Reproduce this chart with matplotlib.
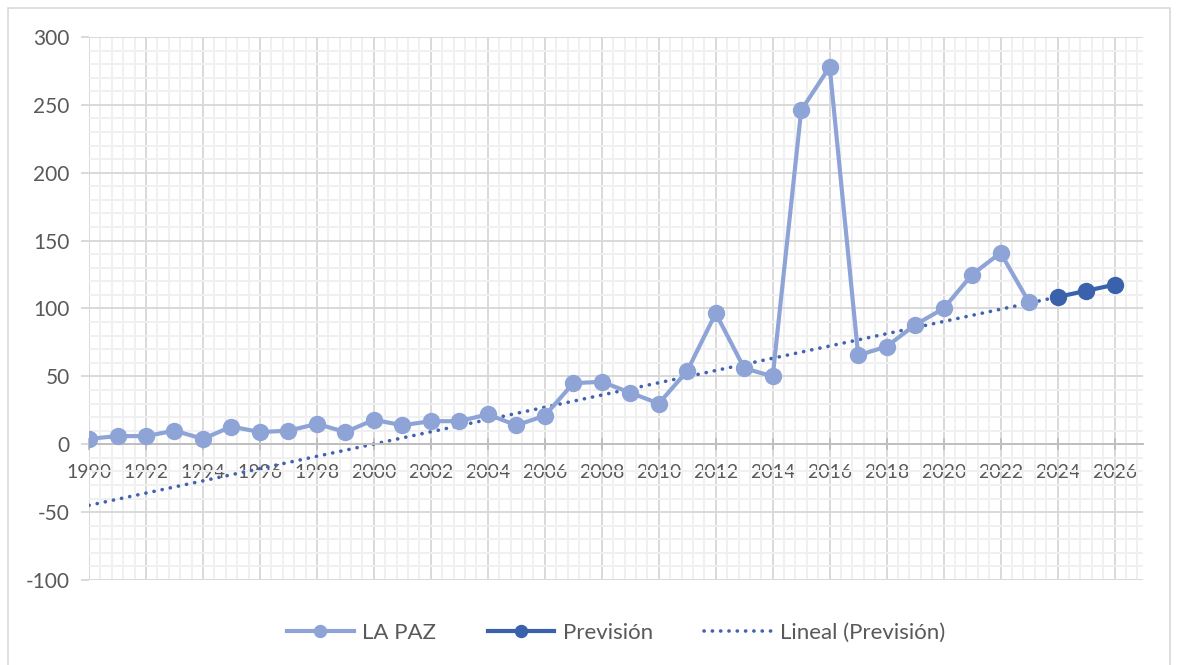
import numpy as np
import matplotlib.pyplot as plt
from matplotlib.patches import Rectangle
from matplotlib.ticker import MultipleLocator

plt.rcParams['font.family'] = ['Lato', 'DejaVu Sans']
plt.rcParams['axes.unicode_minus'] = False

# datos
years = list(range(1990, 2024))
la_paz = [4, 6, 6, 10, 4, 13, 9, 10, 15, 9, 18, 14, 17, 17, 22, 14, 21,
          45, 46, 38, 30, 54, 96.5, 56, 50, 246, 278, 65.5, 72, 88, 100,
          125, 141, 104.5]
forecast_years = [2024, 2025, 2026]
forecast = [108.5, 113, 117.5]
trend_years = [1990, 2024]
trend_values = [-45, 108.5]

c_hist = '#8FA4D6'
c_fore = '#3A61AC'
c_trend = '#4463AF'
c_text = '#595959'

fig = plt.figure(figsize=(11.79, 6.65), dpi=100)
ax = fig.add_axes([0.0755, 0.1278, 0.894, 0.8166])

ax.plot(years, la_paz, color=c_hist, lw=3, marker='o', ms=11.5,
        label='LA PAZ', zorder=3)
ax.plot(forecast_years, forecast, color=c_fore, lw=3, marker='o', ms=11.5,
        label='Previsión', zorder=4)
ax.plot(trend_years, trend_values, color=c_trend, lw=2.6,
        linestyle=(0, (0.05, 2.25)), dash_capstyle='round',
        label='Lineal (Previsión)', zorder=2)

ax.set_xlim(1990, 2027)
ax.set_ylim(-100, 300)
ax.xaxis.set_major_locator(MultipleLocator(2))
ax.xaxis.set_minor_locator(MultipleLocator(0.4))
ax.yaxis.set_major_locator(MultipleLocator(50))
ax.yaxis.set_minor_locator(MultipleLocator(10))

ax.grid(which='major', color='#D9D9D9', lw=1.4, zorder=0)
ax.grid(which='minor', color='#F0F0F0', lw=1.4, zorder=0)
ax.set_axisbelow(True)

for s in ['top', 'right', 'left']:
    ax.spines[s].set_visible(False)
ax.spines['bottom'].set_position(('data', 0))
ax.spines['bottom'].set_color('#BFBFBF')
ax.spines['bottom'].set_linewidth(1.4)

ax.tick_params(axis='x', which='major', direction='inout', length=8,
               color='#BFBFBF', width=1.4, labelsize=14, labelcolor=c_text, pad=10)
ax.tick_params(axis='y', which='major', direction='out', length=6,
               color='#D9D9D9', width=1.4, labelsize=15, labelcolor=c_text, pad=8)
ax.tick_params(which='minor', length=0)
ax.set_xticklabels([str(int(t)) for t in ax.get_xticks()])

ax.legend(loc='upper center', bbox_to_anchor=(0.5, -0.042), ncol=3,
          frameon=False, fontsize=16, labelcolor=c_text, markerscale=0.75,
          handlelength=3.0, columnspacing=2.3, handletextpad=0.4)

fig.patches.append(Rectangle((8 / 1179, -0.02), 1162 / 1179, 1 - 8 / 665 + 0.02,
                             transform=fig.transFigure, fill=False,
                             edgecolor='#D9D9D9', lw=1.2))

fig.savefig('out.png', dpi=100)
